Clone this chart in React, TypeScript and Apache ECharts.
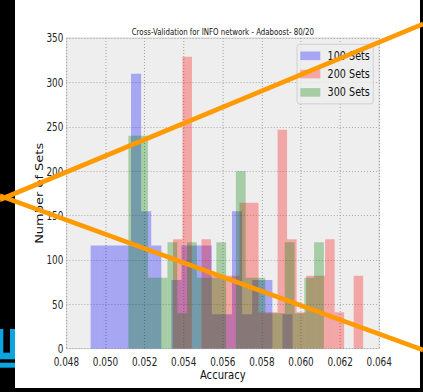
import React, { useEffect, useRef } from "react";
import * as echarts from "echarts";

// ---- data (density histograms, 20 bins each, 50 samples per set) ----
const SERIES_NAMES = ["100 Sets", "200 Sets", "300 Sets"];
const BLUE_RANGE = [0.04924, 0.05957];
const RED_RANGE = [0.05345, 0.06318];
const GREEN_RANGE = [0.05117, 0.06117];
const BLUE_COUNTS = [3, 3, 3, 3, 8, 4, 3, 0, 2, 3, 3, 3, 1, 1, 4, 1, 2, 2, 0, 1];
const RED_COUNTS = [3, 8, 0, 3, 2, 2, 2, 4, 4, 1, 1, 6, 3, 1, 2, 2, 3, 1, 0, 2];
const GREEN_COUNTS = [6, 6, 2, 2, 3, 1, 3, 2, 2, 3, 0, 5, 2, 2, 1, 1, 3, 1, 2, 3];
const X_MIN = 0.048;
const X_MAX = 0.064;
const X_STEP = 0.002;
const Y_MAX = 350;
const Y_STEP = 50;

// ---- layout ----
const S = 0.7705; // horizontal squash of the reference image
const W = 549;
const H = 392;
const cx = (v: number) => v / S;
const FONT = "'DejaVu Sans', Verdana, sans-serif";

function histData(range: number[], counts: number[]) {
  const n = counts.length;
  const total = counts.reduce((a, b) => a + b, 0);
  const w = (range[1] - range[0]) / n;
  const out: number[][] = [];
  counts.forEach((c, i) => {
    if (c > 0) out.push([range[0] + i * w, range[0] + (i + 1) * w, c / (total * w)]);
  });
  return out;
}

function histSeries(name: string, color: string, range: number[], counts: number[]) {
  return {
    name,
    type: "custom",
    clip: true,
    itemStyle: { color },
    encode: { x: [0, 1], y: 2 },
    data: histData(range, counts),
    renderItem: (_p: any, api: any) => {
      const a = api.coord([api.value(0), api.value(2)]);
      const b = api.coord([api.value(1), 0]);
      return {
        type: "rect",
        shape: { x: a[0], y: a[1], width: b[0] - a[0], height: b[1] - a[1] },
        style: { fill: color },
      };
    },
  };
}

function lineAt(x0: number, y0: number, x1: number, y1: number) {
  return {
    type: "line",
    z: 100,
    shape: { x1: cx(x0), y1: y0, x2: cx(x1), y2: y1 },
    style: { stroke: "#ff9a00", lineWidth: 4.8 },
  };
}

export default function App() {
  const ref = useRef<HTMLDivElement>(null);
  useEffect(() => {
    if (!ref.current) return;
    const chart = echarts.init(ref.current, undefined, { renderer: "svg" });
    const logo = "#0aa5e0";
    chart.setOption({
      animation: false,
      backgroundColor: "#ffffff",
      grid: {
        left: cx(66.4),
        right: W - cx(379.2),
        top: 38,
        bottom: H - 348.7,
        show: true,
        backgroundColor: "#eeeeee",
        borderColor: "#cfcfcf",
        borderWidth: 1,
      },
      xAxis: {
        type: "value",
        min: X_MIN,
        max: X_MAX,
        interval: X_STEP,
        name: "Accuracy",
        nameLocation: "middle",
        nameGap: 19,
        nameMoveOverlap: false,
        nameTextStyle: { fontFamily: FONT, fontSize: 13, color: "#111" },
        axisLine: { show: false },
        axisTick: { show: false },
        axisLabel: {
          margin: 6.5,
          fontFamily: FONT,
          fontSize: 11.5,
          color: "#222",
          formatter: (v: number) => v.toFixed(3),
        },
        splitLine: {
          show: true,
          lineStyle: { color: "#a0a0a0", width: 1.3, type: [1, 2] },
        },
      },
      yAxis: {
        type: "value",
        min: 0,
        max: Y_MAX,
        interval: Y_STEP,
        name: "Number of Sets",
        nameLocation: "middle",
        nameGap: 28,
        nameMoveOverlap: false,
        nameTextStyle: { fontFamily: FONT, fontSize: 13, color: "#111" },
        axisLine: { show: false },
        axisTick: { show: false },
        axisLabel: { margin: 4, fontFamily: FONT, fontSize: 11.5, color: "#222" },
        splitLine: {
          show: true,
          lineStyle: { color: "#a0a0a0", width: 1, type: [1.3, 2.6] },
        },
      },
      legend: {
        orient: "vertical",
        left: cx(297),
        top: 44.3,
        padding: [4.5, 4.3, 4.5, 4.3],
        itemWidth: cx(20),
        itemHeight: 8.6,
        itemGap: 4.3,
        icon: "rect",
        backgroundColor: "rgba(238,238,238,0.8)",
        borderColor: "#cccccc",
        borderWidth: 1,
        borderRadius: 3,
        textStyle: {
          fontFamily: FONT,
          fontSize: 12.5,
          lineHeight: 14,
          color: "#111",
          padding: [0, 0, 0, 4.5],
        },
        data: SERIES_NAMES,
      },
      graphic: [
        {
          type: "text",
          x: cx(222.8),
          y: 26.8,
          style: {
            text: "Cross-Validation for INFO network - Adaboost- 80/20",
            fontFamily: FONT,
            fontSize: 9.1,
            fill: "#111",
            textAlign: "center",
            textVerticalAlign: "top",
          },
        },
        { type: "rect", z: 90, shape: { x: 0, y: 0, width: cx(15), height: H }, style: { fill: "#000" } },
        { type: "rect", z: 90, shape: { x: cx(420), y: 0, width: cx(3) + 2, height: H }, style: { fill: "#000" } },
        { type: "rect", z: 90, shape: { x: 0, y: 388, width: W, height: 4 }, style: { fill: "#000" } },
        { type: "rect", z: 95, shape: { x: 0, y: 329, width: cx(3.3), height: 30 }, style: { fill: logo } },
        { type: "rect", z: 95, shape: { x: cx(10), y: 329, width: cx(5), height: 30 }, style: { fill: logo } },
        { type: "rect", z: 95, shape: { x: 0, y: 352.7, width: cx(15), height: 6.6 }, style: { fill: logo } },
        { type: "rect", z: 95, shape: { x: 0, y: 362.7, width: cx(15), height: 5 }, style: { fill: logo } },
        lineAt(0, 199.6, 423, 24),
        lineAt(0, 195.7, 423, 350),
      ],
      series: [
        histSeries(SERIES_NAMES[0], "rgba(0,0,255,0.3)", BLUE_RANGE, BLUE_COUNTS),
        histSeries(SERIES_NAMES[1], "rgba(255,0,0,0.3)", RED_RANGE, RED_COUNTS),
        histSeries(SERIES_NAMES[2], "rgba(0,128,0,0.3)", GREEN_RANGE, GREEN_COUNTS),
      ],
    });
    return () => chart.dispose();
  }, []);
  return (
    <div style={{ position: "fixed", left: 0, top: 0, width: 423, height: H, overflow: "hidden", background: "#fff" }}>
      <div
        ref={ref}
        style={{ width: W, height: H, transform: `scaleX(${S})`, transformOrigin: "0 0" }}
      />
    </div>
  );
}
